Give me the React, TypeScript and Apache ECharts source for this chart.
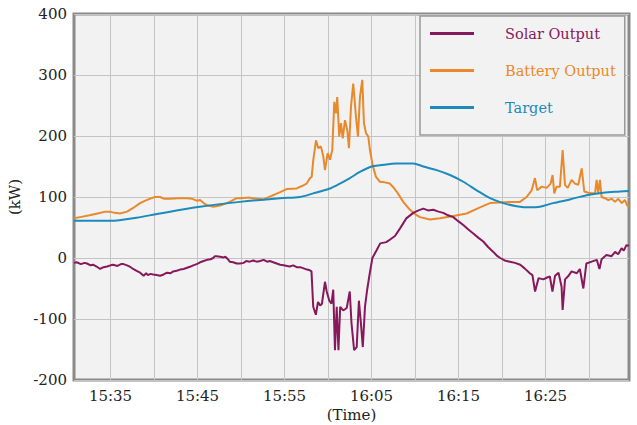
import React, { useEffect, useRef } from "react";
import * as echarts from "echarts";

// minutes after 15:00 and kW values
const solarMin = [30.8,31.1,31.6,32.0,32.3,32.7,33.0,33.4,33.8,34.2,34.6,35.0,35.3,35.8,36.2,36.5,36.9,37.2,37.6,38.0,38.4,38.8,39.1,39.3,39.6,39.9,40.3,40.7,41.1,41.5,41.9,42.2,42.6,43.0,43.4,43.8,44.2,44.5,44.9,45.3,45.7,46.1,46.5,46.8,47.0,47.2,47.6,48.0,48.2,48.5,48.7,49.1,49.5,49.9,50.3,50.6,51.0,51.4,51.8,52.2,52.6,53.0,53.3,53.7,54.1,54.5,54.9,55.3,55.6,56.0,56.4,56.8,57.2,57.6,57.9,58.1,58.3,58.6,58.85,59.1,59.3,59.65,59.85,60.15,60.4,60.6,60.8,61.0,61.2,61.4,61.75,62.15,62.5,62.7,63.0,63.3,63.55,63.8,64.0,64.25,64.5,64.8,65.1,65.6,66.0,66.7,67.1,67.5,67.7,68.3,69.0,69.8,70.4,70.95,71.5,72.1,72.7,73.25,73.8,74.4,75.0,75.55,76.1,76.7,77.3,77.85,78.4,79.0,79.4,79.8,80.3,80.9,81.5,82.1,82.6,83.2,83.5,83.8,84.2,84.75,85.2,85.5,85.8,86.1,86.5,86.85,86.97,87.25,87.6,88.0,88.6,88.95,89.35,89.7,90.3,90.9,91.2,91.45,92.0,92.6,93.0,93.35,93.75,94.0,94.3,94.6];
const solarKW = [-8,-7,-10,-8,-9,-12,-11,-14,-18,-15,-14,-12,-11,-13,-10,-10,-12,-14,-18,-21,-24,-29,-25,-28,-26,-27,-28,-29,-27,-24,-25,-22,-21,-19,-18,-16,-14,-12,-10,-7,-5,-3,-2,0,3,3,2,1,2,-2,-6,-7,-9,-9,-8,-5,-6,-4,-6,-5,-3,-6,-5,-7,-9,-11,-12,-13,-14,-12,-15,-15,-17,-19,-20,-22,-80,-93,-72,-78,-75,-39,-55,-70,-75,-52,-151,-80,-151,-80,-86,-82,-55,-107,-151,-146,-70,-110,-146,-80,-52,-25,0,13,24,26,30,34,36,49,65,74,78,81,78,79,76,74,70,67,60,54,47,40,33,27,18,10,4,0,-4,-6,-8,-11,-17,-25,-28,-55,-33,-35,-32,-30,-55,-29,-24,-47,-85,-35,-30,-22,-25,-18,-50,-9,-6,-3,-18,-2,5,3,10,6,16,12,21,20];

const batteryMin = [30.8,31.5,32.6,33.5,34.4,34.9,35.5,36.1,36.9,37.6,38.4,39.0,39.5,40.1,40.7,41.2,41.8,42.8,43.8,44.4,44.9,45.3,45.7,46.05,46.8,47.6,48.35,48.7,49.5,49.9,51.0,51.4,52.6,53.7,54.5,55.25,56.4,57.0,57.55,57.93,58.12,58.31,58.62,58.88,59.19,59.46,59.65,59.96,60.23,60.49,60.72,60.91,61.06,61.29,61.49,61.69,61.95,62.21,62.41,62.64,62.9,63.21,63.44,63.67,63.94,64.13,64.36,64.63,64.82,65.13,65.51,65.97,66.5,67.12,67.5,67.89,68.65,69.42,70.0,70.57,71.72,72.87,74.4,75.94,77.47,78.62,79.77,81.3,82.07,82.83,83.41,83.79,84.05,84.56,85.13,85.59,85.82,86.01,86.28,86.66,86.97,87.24,87.55,88.01,88.39,88.77,89.16,89.46,89.92,90.31,90.69,90.88,91.06,91.26,91.45,91.83,92.22,92.61,92.99,93.37,93.77,94.14,94.4,94.6];
const batteryKW = [65,67,70,73,76,76,74,73,76,82,90,94,97,100,100,97,97,98,98,97,94,95,90,87,84,86,90,92,98,98,99,98,96,103,108,113,114,118,122,131,133,161,193,180,183,166,144,172,161,177,256,237,264,199,221,196,226,210,180,248,286,232,199,264,292,221,205,199,177,152,133,125,124,122,116,109,92,79,72,67,63,65,69,73,83,90,91,92,92,100,111,131,111,117,115,122,136,106,117,117,177,120,115,128,122,120,147,109,107,106,106,128,106,128,100,98,95,97,92,97,90,95,86,85];

const targetMin = [30.8,34.94,36.0,38.0,40.68,45.28,49.88,54.48,56.78,58.31,59.08,60.23,61.37,62.52,63.67,65.02,65.97,67.89,69.8,70.95,72.49,74.02,75.55,77.09,78.62,80.15,81.68,83.21,84.36,85.89,87.81,89.72,91.64,93.56,94.6];
const targetKW = [61,61,62,66,73,84,92,98,100,106,109,114,122,131,141,150,152,155,155,150,144,136,125,111,98,90,85,83,84,90,96,103,107,109,110];

const xMinMin = 30.8;
const xMaxMin = 94.6;
// grid lines every 5 minutes, labels every 10 minutes (minutes after 15:00)
const gridMinutes = [35, 40, 45, 50, 55, 60, 65, 70, 75, 80, 85, 90];
const labelMinutes = [35, 45, 55, 65, 75, 85];
const yTicks = [-200, -100, 0, 100, 200, 300, 400];

const pairs = (ms: number[], vs: number[]) => ms.map((m, i) => [m, vs[i]]);
const fmtTime = (m: number) => {
  const total = Math.round(m);
  const h = 15 + Math.floor(total / 60);
  const mm = total % 60;
  return h + ":" + String(mm).padStart(2, "0");
};

const FONT = "DejaVu Serif";
const FS = 15;
const FS_LEGEND = 14.5;
const C_SOLAR = "#86195c";
const C_BATT = "#e8892c";
const C_TARGET = "#1b8bbb";

export default function App() {
  const ref = useRef<HTMLDivElement>(null);
  useEffect(() => {
    if (!ref.current) return;
    const chart = echarts.init(ref.current, null, { renderer: "svg" });
    chart.setOption({
      animation: false,
      backgroundColor: "#ffffff",
      textStyle: { fontFamily: FONT },
      grid: {
        left: 74,
        right: 8,
        top: 14,
        bottom: 45,
        outerBoundsMode: "none",
        containLabel: false,
        show: true,
        backgroundColor: "#f2f2f2",
        borderColor: "#8a8a8a",
        borderWidth: 3,
      },
      legend: {
        orient: "vertical",
        left: 420,
        top: 16,
        padding: [10, 9, 20, 10],
        backgroundColor: "#f2f2f2",
        borderColor: "#999999",
        borderWidth: 1.5,
        itemWidth: 44,
        itemHeight: 3,
        itemGap: 22,
        icon: "rect",
        textStyle: { fontFamily: FONT, fontSize: FS_LEGEND, padding: [0, 0, 0, 26] },
        data: [
          { name: "Solar Output", textStyle: { color: C_SOLAR } },
          { name: "Battery Output", textStyle: { color: C_BATT } },
          { name: "Target", textStyle: { color: C_TARGET } },
        ],
      },
      xAxis: {
        type: "value",
        min: xMinMin,
        max: xMaxMin,
        name: "(Time)",
        nameLocation: "middle",
        nameGap: 16,
        nameTextStyle: { fontFamily: FONT, fontSize: FS, color: "#222" },
        axisLine: { show: false },
        axisTick: { show: false, customValues: gridMinutes },
        splitLine: { show: true, lineStyle: { color: "#c4c4c4", width: 1 } },
        axisLabel: {
          customValues: labelMinutes,
          fontFamily: FONT,
          fontSize: FS,
          color: "#222",
          margin: 8,
          formatter: (v: number) => fmtTime(v),
        },
      },
      yAxis: {
        type: "value",
        min: yTicks[0],
        max: yTicks[yTicks.length - 1],
        interval: 100,
        name: "(kW)",
        nameLocation: "middle",
        nameGap: 37,
        nameRotate: 90,
        nameTextStyle: { fontFamily: FONT, fontSize: FS, color: "#222" },
        axisLine: { show: false },
        axisTick: { show: false },
        splitLine: { show: true, lineStyle: { color: "#c4c4c4", width: 1 } },
        axisLabel: { fontFamily: FONT, fontSize: FS, color: "#222", margin: 7 },
      },
      series: [
        {
          name: "Solar Output",
          type: "line",
          data: pairs(solarMin, solarKW),
          showSymbol: false,
          symbol: "none",
          color: C_SOLAR,
          lineStyle: { color: C_SOLAR, width: 2 },
          z: 3,
        },
        {
          name: "Battery Output",
          type: "line",
          data: pairs(batteryMin, batteryKW),
          showSymbol: false,
          symbol: "none",
          color: C_BATT,
          lineStyle: { color: C_BATT, width: 2 },
          z: 2,
        },
        {
          name: "Target",
          type: "line",
          data: pairs(targetMin, targetKW),
          showSymbol: false,
          symbol: "none",
          smooth: 0.3,
          color: C_TARGET,
          lineStyle: { color: C_TARGET, width: 2 },
          z: 4,
        },
      ],
    });
    return () => chart.dispose();
  }, []);
  return (
    <div
      ref={ref}
      style={{ position: "fixed", left: 0, top: 0, width: 637, height: 425 }}
    />
  );
}
